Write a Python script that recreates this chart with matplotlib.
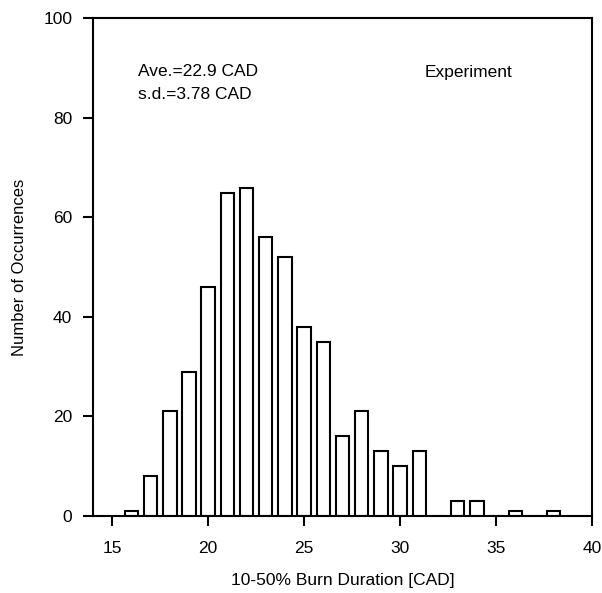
import numpy as np
import matplotlib.pyplot as plt

plt.rcParams['font.family'] = ['Liberation Sans', 'DejaVu Sans']

# burn duration bins [CAD] and counts
duration = [16, 17, 18, 19, 20, 21, 22, 23, 24, 25, 26, 27, 28, 29, 30, 31, 32, 33, 34, 35, 36, 37, 38]
counts = [1, 8, 21, 29, 46, 65, 66, 56, 52, 38, 35, 16, 21, 13, 10, 13, 0, 3, 3, 0, 1, 0, 1]

xticks = [15, 20, 25, 30, 35, 40]
yticks = [0, 20, 40, 60, 80, 100]

fig = plt.figure(figsize=(6.02, 5.93), dpi=100)
ax = fig.add_axes([0.1545, 0.130, 0.829, 0.839])

ax.bar(duration, counts, width=0.7, facecolor='white', edgecolor='black', linewidth=1.5)

ax.set_xlim(14, 40)
ax.set_ylim(0, 100)
ax.set_xticks(xticks)
ax.set_yticks(yticks)
ax.tick_params(direction='out', length=7, width=1.5, labelsize=12.5)
ax.tick_params(axis='x', pad=11)
ax.tick_params(axis='y', pad=8)
for s in ax.spines.values():
    s.set_linewidth(1.5)

ax.set_xlabel('10-50% Burn Duration [CAD]', fontsize=12.5, labelpad=12)
ax.set_ylabel('Number of Occurrences', fontsize=12, labelpad=12)

# texts placed in pixel coords measured from the top of the image
ax.text(138, 83, 'Ave.=22.9 CAD\ns.d.=3.78 CAD', transform=None, fontsize=12.5,
        ha='left', va='center', linespacing=1.6)
ax.text(425, 72, 'Experiment', transform=None, fontsize=12.5, ha='left', va='center')

for t in ax.texts:
    x, y = t.get_position()
    t.set_position((x, 593 - y))

fig.savefig('out.png', dpi=100)
